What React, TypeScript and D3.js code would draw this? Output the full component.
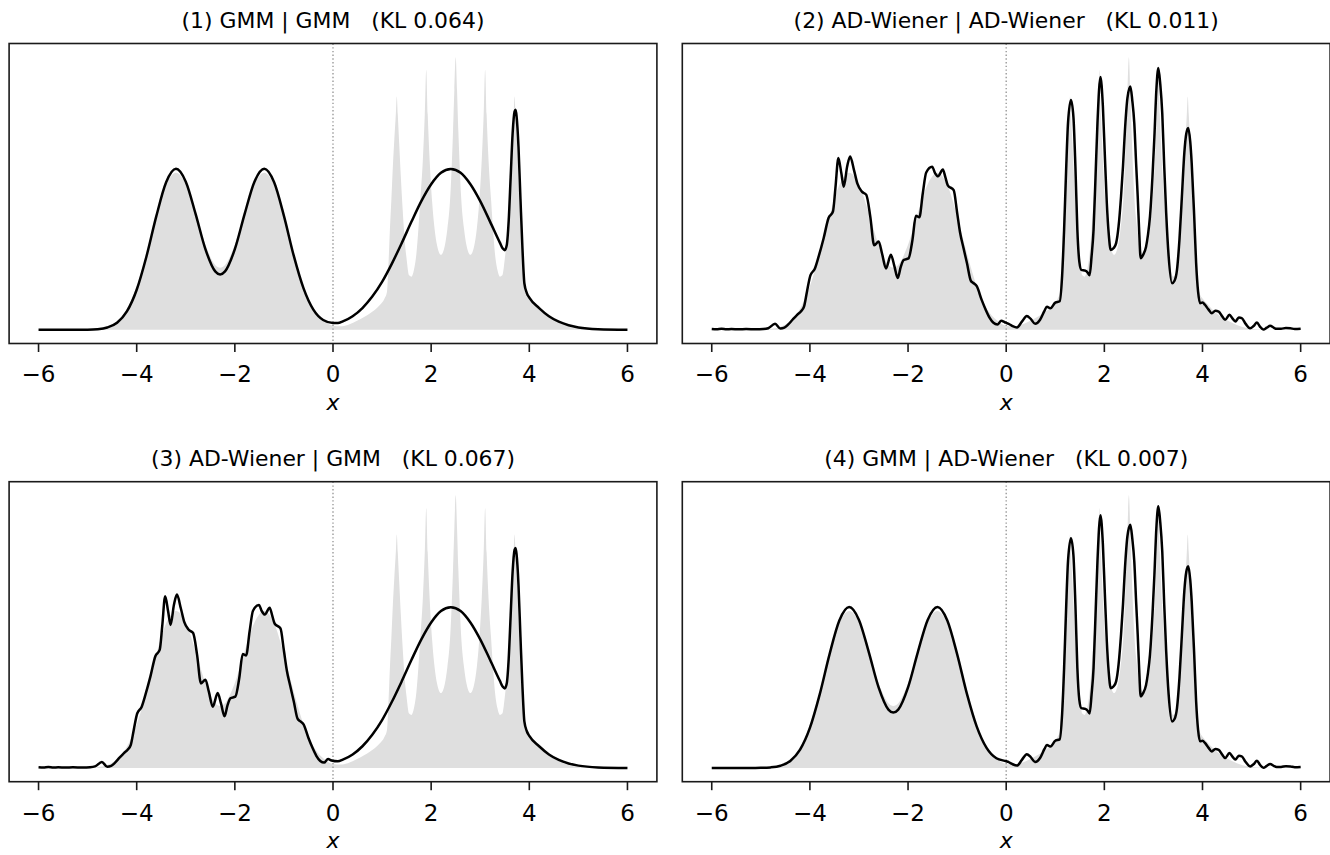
import React from 'react';
import * as d3 from 'd3';

type Pt = [number, number];

// Target density (grey fill), x in [-6, 6]
const targetDensity: Pt[] = [
  [-6.0, 0], [-5.5, 0.0002], [-5.2, 0.0004], [-5.0, 0.001], [-4.8, 0.0034], [-4.6, 0.0114],
  [-4.4, 0.0323], [-4.2, 0.0778], [-4.0, 0.16], [-3.8, 0.28], [-3.6, 0.4175], [-3.4, 0.531],
  [-3.2, 0.576], [-3.0, 0.534], [-2.8, 0.429], [-2.6, 0.312], [-2.4, 0.238], [-2.3, 0.228],
  [-2.2, 0.238], [-2.0, 0.312], [-1.8, 0.429], [-1.6, 0.534], [-1.4, 0.576], [-1.2, 0.531],
  [-1.0, 0.4175], [-0.8, 0.28], [-0.6, 0.16], [-0.4, 0.079], [-0.2, 0.036], [0.0, 0.015],
  [0.15, 0.013], [0.3, 0.018], [0.5, 0.034], [0.75, 0.06], [0.95, 0.09], [1.05, 0.115],
  [1.1, 0.14], [1.13, 0.24], [1.16, 0.37], [1.19, 0.48], [1.22, 0.6], [1.25, 0.7], [1.28, 0.79],
  [1.3, 0.856], [1.32, 0.79], [1.35, 0.68], [1.38, 0.57], [1.42, 0.44], [1.46, 0.33], [1.5, 0.26],
  [1.55, 0.2], [1.6, 0.195], [1.65, 0.22], [1.7, 0.28], [1.74, 0.37], [1.78, 0.48], [1.83, 0.62],
  [1.87, 0.79], [1.9, 0.953], [1.93, 0.79], [1.97, 0.62], [2.02, 0.47], [2.07, 0.37], [2.12, 0.31],
  [2.2, 0.275], [2.28, 0.31], [2.33, 0.37], [2.39, 0.49], [2.446, 0.73], [2.473, 0.88], [2.5, 1.0],
  [2.527, 0.88], [2.554, 0.73], [2.61, 0.49], [2.67, 0.37], [2.72, 0.31], [2.8, 0.275], [2.88, 0.31],
  [2.93, 0.37], [2.98, 0.47], [3.03, 0.62], [3.07, 0.79], [3.1, 0.953], [3.13, 0.79], [3.17, 0.62],
  [3.22, 0.48], [3.26, 0.37], [3.3, 0.28], [3.35, 0.22], [3.4, 0.195], [3.45, 0.2], [3.5, 0.26],
  [3.54, 0.33], [3.58, 0.44], [3.62, 0.57], [3.65, 0.68], [3.68, 0.79], [3.7, 0.856], [3.72, 0.79],
  [3.75, 0.68], [3.78, 0.55], [3.82, 0.4], [3.86, 0.26], [3.9, 0.17], [3.95, 0.13], [4.0, 0.115],
  [4.1, 0.095], [4.2, 0.075], [4.35, 0.052], [4.5, 0.035], [4.7, 0.018], [4.9, 0.007], [5.2, 0.002],
  [5.6, 0.0], [6.0, 0.0],
];

// GMM fit, left half (x <= 0)
const gmmLeft: Pt[] = [
  [-6.0, 0.0003], [-5.5, 0.0004], [-5.2, 0.0005], [-5.0, 0.0008], [-4.8, 0.0025], [-4.6, 0.0086],
  [-4.4, 0.026], [-4.2, 0.0674], [-4.0, 0.1471], [-3.8, 0.2701], [-3.6, 0.417], [-3.4, 0.541],
  [-3.2, 0.5905], [-3.0, 0.5433], [-2.8, 0.4254], [-2.6, 0.296], [-2.4, 0.2145], [-2.3, 0.2034],
  [-2.2, 0.2145], [-2.0, 0.296], [-1.8, 0.4254], [-1.6, 0.5433], [-1.4, 0.5905], [-1.2, 0.541],
  [-1.0, 0.418], [-0.8, 0.272], [-0.6, 0.152], [-0.4, 0.074], [-0.2, 0.036], [0.0, 0.025],
];

// GMM fit, right half (x > 0)
const gmmRight: Pt[] = [
  [0.1, 0.025], [0.2, 0.031], [0.4, 0.05], [0.6, 0.08], [0.8, 0.122], [1.0, 0.176], [1.2, 0.243],
  [1.4, 0.318], [1.6, 0.397], [1.8, 0.472], [2.0, 0.534], [2.2, 0.576], [2.4, 0.59], [2.6, 0.576],
  [2.8, 0.534], [3.0, 0.472], [3.2, 0.397], [3.4, 0.32], [3.46, 0.298], [3.5, 0.292], [3.54, 0.31],
  [3.58, 0.4], [3.62, 0.56], [3.66, 0.72], [3.7, 0.8], [3.72, 0.807], [3.74, 0.785], [3.78, 0.67],
  [3.82, 0.48], [3.86, 0.3], [3.9, 0.17], [3.95, 0.135], [4.0, 0.118], [4.2, 0.08], [4.4, 0.05],
  [4.6, 0.03], [4.8, 0.017], [5.0, 0.009], [5.4, 0.0025], [6.0, 0.0005],
];

// AD-Wiener fit, left half (x <= 0)
const wienerLeft: Pt[] = [
  [-6.0, 0.003], [-5.9, 0.002], [-5.8, 0.004], [-5.7, 0.002], [-5.6, 0.003], [-5.45, 0.002],
  [-5.3, 0.003], [-5.1, 0.002], [-4.95, 0.003], [-4.85, 0.006], [-4.71, 0.022], [-4.6, 0.005],
  [-4.52, 0.008], [-4.44, 0.02], [-4.35, 0.038], [-4.26, 0.055], [-4.18, 0.068], [-4.12, 0.085],
  [-4.06, 0.14], [-3.99, 0.2], [-3.9, 0.224], [-3.82, 0.27], [-3.72, 0.336], [-3.62, 0.41],
  [-3.53, 0.434], [-3.48, 0.52], [-3.42, 0.63], [-3.36, 0.575], [-3.31, 0.525], [-3.24, 0.6],
  [-3.18, 0.636], [-3.1, 0.585], [-3.03, 0.535], [-2.94, 0.507], [-2.85, 0.495], [-2.77, 0.416],
  [-2.69, 0.31], [-2.6, 0.324], [-2.53, 0.28], [-2.45, 0.225], [-2.35, 0.275], [-2.28, 0.235],
  [-2.21, 0.19], [-2.15, 0.23], [-2.09, 0.256], [-1.99, 0.262], [-1.91, 0.33], [-1.84, 0.418],
  [-1.77, 0.413], [-1.7, 0.5], [-1.63, 0.577], [-1.51, 0.598], [-1.45, 0.575], [-1.39, 0.563],
  [-1.29, 0.588], [-1.24, 0.56], [-1.19, 0.53], [-1.07, 0.512], [-1.0, 0.43], [-0.94, 0.357],
  [-0.87, 0.3], [-0.8, 0.245], [-0.72, 0.18], [-0.67, 0.172], [-0.6, 0.16], [-0.5, 0.11],
  [-0.42, 0.075], [-0.34, 0.045], [-0.26, 0.026], [-0.18, 0.02], [-0.1, 0.033], [-0.03, 0.028],
];

// AD-Wiener fit, right half (x > 0)
const wienerRight: Pt[] = [
  [0.05, 0.022], [0.12, 0.015], [0.22, 0.009], [0.32, 0.03], [0.42, 0.051], [0.5, 0.04],
  [0.59, 0.022], [0.69, 0.037], [0.78, 0.07], [0.83, 0.085], [0.9, 0.079], [1.0, 0.1],
  [1.09, 0.105], [1.14, 0.2], [1.18, 0.367], [1.22, 0.58], [1.26, 0.76], [1.32, 0.843],
  [1.37, 0.78], [1.41, 0.6], [1.45, 0.367], [1.49, 0.25], [1.53, 0.22], [1.61, 0.217],
  [1.66, 0.21], [1.7, 0.2], [1.74, 0.27], [1.78, 0.367], [1.82, 0.56], [1.86, 0.76],
  [1.92, 0.927], [1.97, 0.82], [2.01, 0.64], [2.05, 0.465], [2.09, 0.35], [2.13, 0.293],
  [2.19, 0.3], [2.24, 0.318], [2.29, 0.38], [2.34, 0.489], [2.38, 0.6], [2.42, 0.733],
  [2.47, 0.85], [2.53, 0.892], [2.57, 0.84], [2.61, 0.758], [2.65, 0.6], [2.68, 0.489],
  [2.71, 0.36], [2.74, 0.263], [2.79, 0.275], [2.85, 0.305], [2.89, 0.35], [2.93, 0.416],
  [2.98, 0.56], [3.02, 0.709], [3.06, 0.88], [3.1, 0.96], [3.14, 0.9], [3.18, 0.794],
  [3.22, 0.6], [3.26, 0.428], [3.31, 0.27], [3.38, 0.171], [3.43, 0.18], [3.48, 0.22],
  [3.53, 0.33], [3.58, 0.489], [3.63, 0.65], [3.67, 0.72], [3.71, 0.74], [3.75, 0.69],
  [3.78, 0.611], [3.83, 0.42], [3.87, 0.245], [3.91, 0.14], [3.95, 0.098], [4.0, 0.1],
  [4.05, 0.092], [4.12, 0.075], [4.19, 0.061], [4.26, 0.07], [4.33, 0.067], [4.4, 0.05],
  [4.46, 0.037], [4.55, 0.055], [4.61, 0.042], [4.67, 0.031], [4.74, 0.045], [4.8, 0.043],
  [4.88, 0.022], [4.97, 0.006], [5.04, 0.014], [5.11, 0.027], [5.17, 0.012], [5.24, 0.001],
  [5.31, 0.008], [5.38, 0.015], [5.45, 0.008], [5.51, 0.004], [5.6, 0.004], [5.7, 0.007],
  [5.79, 0.006], [5.88, 0.003], [6.0, 0.004],
];

const xTicks = [-6, -4, -2, 0, 2, 4, 6];
const panelTitles = [
  '(1) GMM | GMM   (KL 0.064)',
  '(2) AD-Wiener | AD-Wiener   (KL 0.011)',
  '(3) AD-Wiener | GMM   (KL 0.067)',
  '(4) GMM | AD-Wiener   (KL 0.007)',
];
const panelLeftModel = ['gmm', 'wiener', 'wiener', 'gmm'];
const panelRightModel = ['gmm', 'wiener', 'gmm', 'wiener'];

const models: Record<string, { left: Pt[]; right: Pt[] }> = {
  gmm: { left: gmmLeft, right: gmmRight },
  wiener: { left: wienerLeft, right: wienerRight },
};

export default function App() {
  const W = 1330;
  const H = 855;
  const colX = [9.1, 682.3];
  const rowY = [43.5, 481.7];
  const pw = 647.8;
  const ph = 300;
  const fmt = (d: number) => (d < 0 ? '\u2212' + Math.abs(d) : String(d));

  return (
    <svg
      width={W}
      height={H}
      style={{ position: 'absolute', left: 0, top: 0, background: '#fff' }}
      fontFamily="'DejaVu Sans', sans-serif"
    >
      {panelTitles.map((title, i) => {
        const x0 = colX[i % 2];
        const y0 = rowY[Math.floor(i / 2)];
        const x = d3.scaleLinear().domain([-6.6, 6.6]).range([x0, x0 + pw]);
        const y = d3.scaleLinear().domain([-0.05, 1.05]).range([y0 + ph, y0]);
        const area = d3
          .area<Pt>()
          .x((d) => x(d[0]))
          .y0(y(0))
          .y1((d) => y(d[1]))
          .curve(d3.curveMonotoneX);
        const line = d3
          .line<Pt>()
          .x((d) => x(d[0]))
          .y((d) => y(d[1]))
          .curve(d3.curveMonotoneX);
        const model = [...models[panelLeftModel[i]].left, ...models[panelRightModel[i]].right];
        const cx = x0 + pw / 2;
        return (
          <g key={i}>
            <path d={area(targetDensity) || ''} fill="#dfdfdf" stroke="none" />
            <line
              x1={x(0)}
              x2={x(0)}
              y1={y0}
              y2={y0 + ph}
              stroke="#9a9a9a"
              strokeWidth={1.4}
              strokeDasharray="1.4 2.3"
            />
            <path d={line(model) || ''} fill="none" stroke="#000" strokeWidth={2.5} strokeLinejoin="round" />
            <rect x={x0} y={y0} width={pw} height={ph} fill="none" stroke="#1a1a1a" strokeWidth={1.6} />
            {xTicks.map((t) => (
              <g key={t}>
                <line x1={x(t)} x2={x(t)} y1={y0 + ph} y2={y0 + ph + 8.5} stroke="#1a1a1a" strokeWidth={1.6} />
                <text x={x(t)} y={y0 + ph + 38.8} textAnchor="middle" fontSize={23} fill="#000">
                  {fmt(t)}
                </text>
              </g>
            ))}
            <text x={cx} y={y0 + ph + 66.5} textAnchor="middle" fontSize={22} fontStyle="italic" fill="#000">
              x
            </text>
            <text x={cx} y={y0 - 16} textAnchor="middle" fontSize={21.9} fill="#000" style={{ whiteSpace: 'pre' }}>
              {title}
            </text>
          </g>
        );
      })}
    </svg>
  );
}
